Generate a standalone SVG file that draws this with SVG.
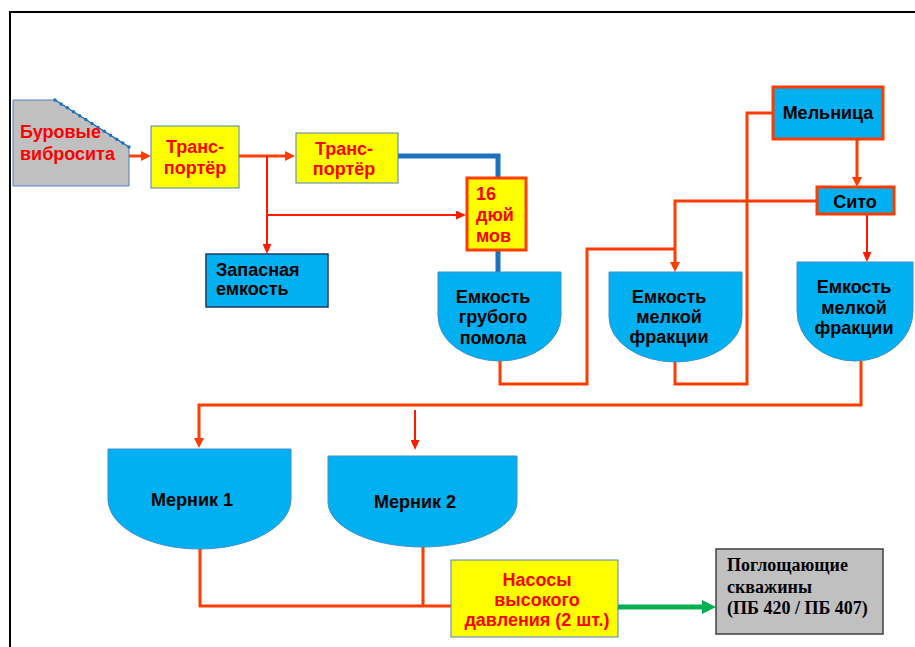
<svg xmlns="http://www.w3.org/2000/svg" width="915" height="647" viewBox="0 0 915 647">
<style>
text{font-family:"Liberation Sans",Arial,sans-serif;font-weight:bold;font-size:18px}
.red{fill:#ff0000}
.blk{fill:#000}
.tnr{font-family:"Liberation Serif","Times New Roman",serif;font-size:18px}
.yb{fill:#ffff00;stroke:#4f81bd;stroke-width:1}
.cy{fill:#00b0f0;stroke:#3d8fd0;stroke-width:1}
.cyo{fill:#00b0f0;stroke:#ff3c00;stroke-width:3}
.o{fill:none;stroke:#ff3c00;stroke-width:3}
.r{fill:none;stroke:#ff1a00;stroke-width:2}
</style>
<defs>
<marker id="ah" markerUnits="userSpaceOnUse" markerWidth="10" markerHeight="10" viewBox="0 0 10 10" refX="3" refY="5" orient="auto">
<path d="M0,0 L10,5 L0,10 Z" fill="#ff3c00"/>
</marker>
<marker id="ahr" markerUnits="userSpaceOnUse" markerWidth="10" markerHeight="9" viewBox="0 0 10 9" refX="3" refY="4.5" orient="auto">
<path d="M0,0 L10,4.5 L0,9 Z" fill="#ff1a00"/>
</marker>
<marker id="ahg" markerUnits="userSpaceOnUse" markerWidth="14" markerHeight="14" viewBox="0 0 14 14" refX="3" refY="7" orient="auto">
<path d="M0,0 L14,7 L0,14 Z" fill="#00b050"/>
</marker>
</defs>
<rect width="915" height="647" fill="#fff"/>
<path d="M10,647 V12 H915" fill="none" stroke="#000" stroke-width="2"/>

<g id="connectors">
<path class="o" d="M129,156 H144" marker-end="url(#ah)"/>
<path class="o" d="M239,156 H288" marker-end="url(#ah)"/>
<path class="r" d="M267,156 V247" marker-end="url(#ahr)"/>
<path class="r" d="M267,215 H459" marker-end="url(#ahr)"/>
<path d="M392,156 H498 V178 M498,250 V278" fill="none" stroke="#1e70c0" stroke-width="5"/>
<path class="o" d="M500,361 V384 H587 V249 H675"/>
<path class="o" d="M817,201 H675 V265" marker-end="url(#ah)"/>
<path class="o" d="M675,362 V384 H747 V113 H773"/>
<path class="o" d="M857,139 V180" marker-end="url(#ah)"/>
<path class="r" d="M867,214 V255" marker-end="url(#ahr)"/>
<path class="o" d="M861,361 V405 H199 V441" marker-end="url(#ah)"/>
<path class="r" d="M415,410 V443" marker-end="url(#ahr)"/>
<path class="o" d="M200,549 V606 H451 M423,547 V606"/>
<path d="M618,607 H705" fill="none" stroke="#00b050" stroke-width="5" marker-end="url(#ahg)"/>
</g>

<g id="burovye">
<polygon points="13,100 55,100 129,147 129,186 13,186" fill="#c0c0c0" stroke="#4f81bd" stroke-width="1"/>
<path d="M55,100 L129,147" stroke="#1e70c0" stroke-width="1.2" fill="none"/>
<path d="M55,100 L129,147" stroke="#1e70c0" stroke-width="3.5" stroke-linecap="round" stroke-dasharray="0 7.3" fill="none"/>
<text class="red" x="20" y="138">Буровые</text>
<text class="red" x="20" y="160">вибросита</text>
</g>

<g id="transporter1">
<rect class="yb" x="151" y="126" width="88" height="62"/>
<text class="red" x="195" y="153" text-anchor="middle">Транс-</text>
<text class="red" x="195" y="174" text-anchor="middle">портёр</text>
</g>

<g id="transporter2">
<rect class="yb" x="296" y="133" width="102" height="50"/>
<text class="red" x="344" y="155" text-anchor="middle">Транс-</text>
<text class="red" x="344" y="175" text-anchor="middle">портёр</text>
</g>

<g id="sixteen">
<rect x="467" y="178" width="59" height="72" fill="#ffff00" stroke="#ff3c00" stroke-width="3"/>
<text class="red" x="476" y="200">16</text>
<text class="red" x="476" y="221">дюй</text>
<text class="red" x="476" y="242">мов</text>
</g>

<g id="zapasnaya">
<rect x="206" y="254" width="122" height="53" fill="#00b0f0" stroke="#1f3864" stroke-width="1.5"/>
<text class="blk" x="216" y="276">Запасная</text>
<text class="blk" x="216" y="295">емкость</text>
</g>

<g id="emk-grub">
<path class="cy" d="M438,272 H561 V316 A61.5,45 0 0 1 438,316 Z"/>
<text class="blk" x="493" y="303" text-anchor="middle">Емкость</text>
<text class="blk" x="493" y="323" text-anchor="middle">грубого</text>
<text class="blk" x="493" y="344" text-anchor="middle">помола</text>
</g>

<g id="emk-melk1">
<path class="cy" d="M609,272 H742 V317 A66.5,45 0 0 1 609,317 Z"/>
<text class="blk" x="669" y="303" text-anchor="middle">Емкость</text>
<text class="blk" x="669" y="323" text-anchor="middle">мелкой</text>
<text class="blk" x="669" y="343" text-anchor="middle">фракции</text>
</g>

<g id="emk-melk2">
<path class="cy" d="M797,262 H913 V311 A58,50 0 0 1 797,311 Z"/>
<text class="blk" x="854" y="293" text-anchor="middle">Емкость</text>
<text class="blk" x="854" y="314" text-anchor="middle">мелкой</text>
<text class="blk" x="854" y="334" text-anchor="middle">фракции</text>
</g>

<g id="melnitsa">
<rect class="cyo" x="773" y="87" width="110" height="52"/>
<text class="blk" x="828" y="119" text-anchor="middle">Мельница</text>
</g>

<g id="sito">
<rect class="cyo" x="817" y="187" width="77" height="27"/>
<text class="blk" x="855" y="208" text-anchor="middle">Сито</text>
</g>

<g id="mernik1">
<path class="cy" d="M108,449 H291 V499 A91.5,50 0 0 1 108,499 Z"/>
<text class="blk" x="192" y="506" text-anchor="middle">Мерник 1</text>
</g>

<g id="mernik2">
<path class="cy" d="M328,456 H517 V502 A94.5,45 0 0 1 328,502 Z"/>
<text class="blk" x="415" y="508" text-anchor="middle">Мерник 2</text>
</g>

<g id="nasosy">
<rect class="yb" x="451" y="560" width="167" height="77"/>
<text class="red" x="537" y="586" text-anchor="middle">Насосы</text>
<text class="red" x="537" y="606" text-anchor="middle">высокого</text>
<text class="red" x="537" y="626" text-anchor="middle">давления (2 шт.)</text>
</g>

<g id="skvazhiny">
<rect x="716" y="549" width="167" height="85" fill="#c0c0c0" stroke="#404040" stroke-width="1.5"/>
<text class="blk tnr" x="727" y="571">Поглощающие</text>
<text class="blk tnr" x="727" y="593">скважины</text>
<text class="blk tnr" x="727" y="614">(ПБ 420 / ПБ 407)</text>
</g>
</svg>
